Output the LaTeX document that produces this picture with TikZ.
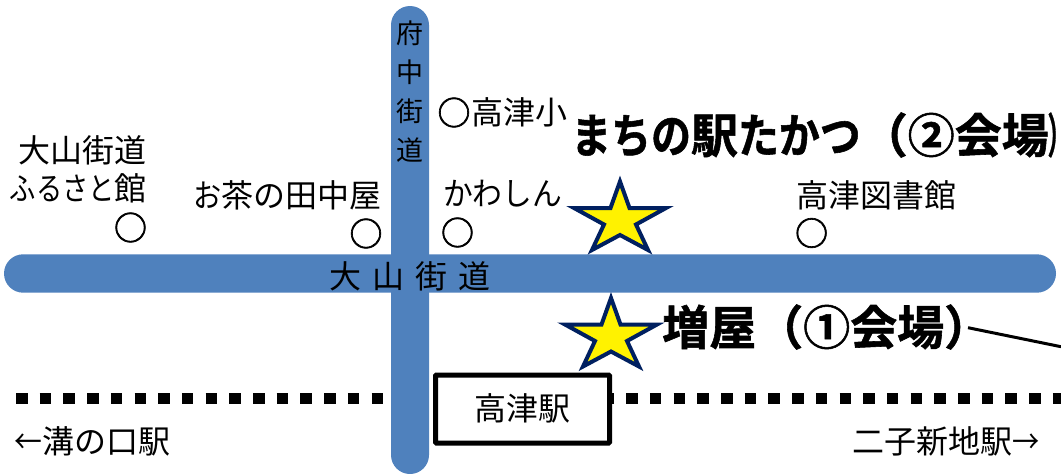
\documentclass[tikz,border=0pt]{standalone}
\usepackage{graphicx}
\usepackage{fontspec}
\setmainfont{Noto Sans CJK JP}[BoldFont={Noto Sans CJK JP Bold}]
\newfontfamily\venuefont{Noto Sans CJK JP Bold}[FakeBold=1.2]
\newfontfamily\venuepalt{Noto Sans CJK JP Bold}[FakeBold=1.2,RawFeature={+palt}]
\newfontfamily\ringfont{Noto Sans CJK JP}[FakeBold=2]
\newcommand{\narrow}[2]{\scalebox{#1}[1]{#2}}
\definecolor{roadblue}{HTML}{4F81BD}
\definecolor{starnavy}{HTML}{002060}
\tikzset{
  lbl/.style={inner sep=0pt,font=\fontsize{32}{32}\selectfont,text=black},
  ring/.style={inner sep=0pt,font=\ringfont\fontsize{33}{33}\selectfont,text=black},
  roadtext/.style={inner sep=0pt,font=\fontsize{27}{27}\selectfont,text=black},
  venue/.style={inner sep=0pt,font=\venuefont\fontsize{47}{47}\selectfont,text=black},
  road/.style={fill=roadblue},
  rail/.style={draw=black,line width=11pt,dash pattern=on 11.5pt off 12.2pt},
  stationbox/.style={draw=black,fill=white,line width=5pt,rounded corners=1pt,minimum width=174pt,minimum height=68pt,inner sep=0pt,font=\fontsize{32}{32}\selectfont},
  starmark/.style={draw=starnavy,fill=yellow,line width=4pt,line join=miter,miter limit=10},
  leader/.style={draw=black,line width=3pt}
}
\newcommand{\starat}[2]{\path[starmark,shift={(#1,#2)}] (0,0) -- (9.5,26.5) -- (46,26.5) -- (16,43) -- (28,68.5) -- (0,53.5) -- (-28,68.5) -- (-16,43) -- (-46,26.5) -- (-9.5,26.5) -- cycle;}
\begin{document}
\begin{tikzpicture}[x=1pt,y=-1pt]
\useasboundingbox (0,0) rectangle (1061,474);
\fill[white] (0,0) rectangle (1061,474);
% roads
\fill[road,rounded corners=19pt] (391,6) rectangle (429,474);
\fill[road,rounded corners=19.2pt] (4,254.3) rectangle (1056,292.7);
% rail
\coordinate (railL) at (16,398.5);
\coordinate (railLe) at (383,398.5);
\coordinate (railRs) at (602.5,398.5);
\coordinate (railRe) at (1061,398.5);
\draw[rail] (railL) -- (railLe);
\draw[rail] (railRs) -- (railRe);
% stars
\starat{620}{181.5}
\starat{611}{298}
% station
\node[stationbox] (station) at (522.5,409) {\raisebox{3pt}{高津駅}};
% road names
\node[roadtext] (f1) at (410,33) {府};
\node[roadtext] (f2) at (410,72) {中};
\node[roadtext] (f3) at (410,111) {街};
\node[roadtext] (f4) at (410,150) {道};
\node[lbl] (oyama) at (410,276) {大\hspace{11.3pt}山\hspace{11.3pt}街\hspace{11.3pt}道};
% labels
\node[lbl,anchor=east] (furusato1) at (147,150) {大山街道};
\node[lbl,anchor=east] (furusato2) at (147,188) {\narrow{.82}{ふるさと}館};
\node[ring] (c1) at (130.5,227.5) {○};
\node[lbl,anchor=east] (ochaya) at (382,195.5) {\narrow{.88}{お}茶の田中屋};
\node[ring] (c2) at (366,233.5) {○};
\node[lbl,anchor=west] (kawashin) at (443,194) {\narrow{.93}{かわしん}};
\node[ring] (c3) at (457.5,232.5) {○};
\node[ring] (c5) at (454,112.5) {○};
\node[lbl,anchor=west] (sho) at (471,112.5) {高津小};
\node[lbl] (lib) at (876,195.5) {高津図書館};
\node[ring] (c4) at (811.6,233) {○};
\node[lbl,anchor=west] (mizo) at (14,441.5) {\narrow{.87}{←}溝の口駅};
\node[lbl,anchor=east] (futako) at (1040,441.5) {二子新地駅\narrow{.85}{→}};
% venues
\node[venue,anchor=west] (machi) at (571,135) {\narrow{.85}{まちの}駅\narrow{.87}{たかつ}（②会場\narrow{.5}{\venuepalt ）}};
\node[venue,anchor=west] (masuya) at (662,327) {増屋（①会場）\hspace{-22pt}};
\coordinate (leadEnd) at (1061,346.7);
\coordinate (leadStart) at (968,327.7);
\draw[leader] (leadStart) -- (leadEnd);
\end{tikzpicture}
\end{document}
